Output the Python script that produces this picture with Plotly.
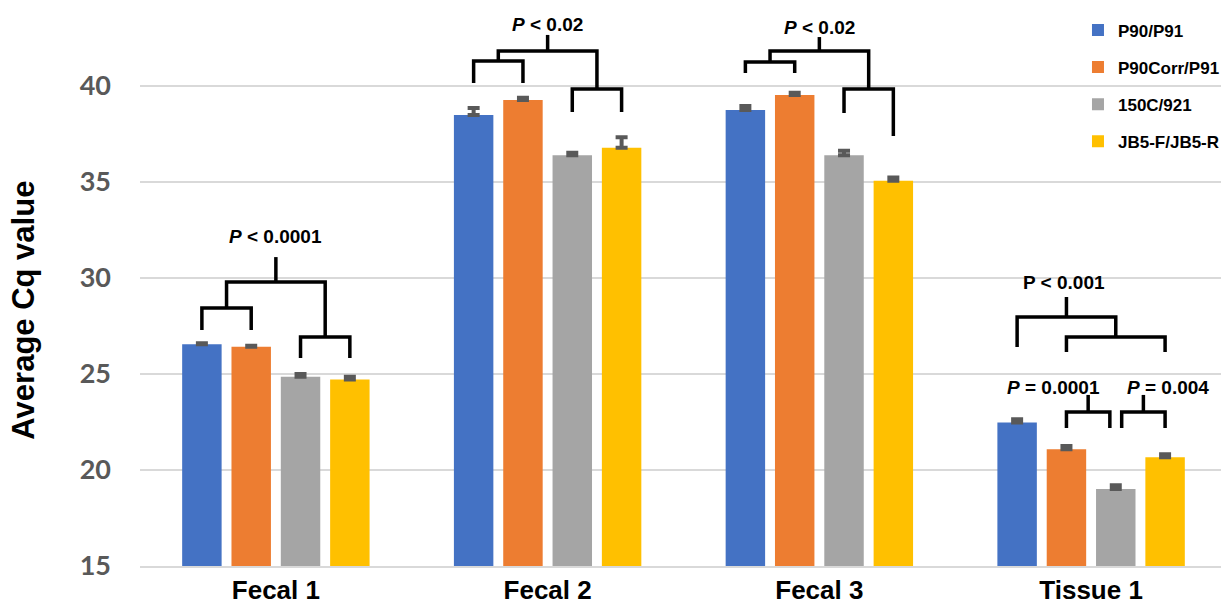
import plotly.graph_objects as go

# ---------------- data ----------------
categories = ["Fecal 1", "Fecal 2", "Fecal 3", "Tissue 1"]
series_names = ["P90/P91", "P90Corr/P91", "150C/921", "JB5-F/JB5-R"]
p90_p91 = [26.55, 38.49, 38.75, 22.48]
p90corr_p91 = [26.42, 39.27, 39.53, 21.08]
c150_921 = [24.86, 36.39, 36.39, 19.01]
jb5 = [24.72, 36.79, 35.07, 20.66]
err_p90_p91 = [0.05, 0.36, 0.21, 0.16]
err_p90corr_p91 = [0.05, 0.12, 0.12, 0.17]
err_c150_921 = [0.14, 0.14, 0.24, 0.20]
err_jb5 = [0.14, 0.54, 0.16, 0.16]

values = [p90_p91, p90corr_p91, c150_921, jb5]
errors = [err_p90_p91, err_p90corr_p91, err_c150_921, err_jb5]
colors = ["#4472C4", "#ED7D31", "#A5A5A5", "#FFC000"]

y_ticks = [15, 20, 25, 30, 35, 40]

# ---------------- layout constants ----------------
BARGAP = 0.274
BARGROUPGAP = 0.2
N = len(series_names)
SLOT = (1 - BARGAP) / N  # in category units


def bx(cat, j):
    """x position (category units) of bar slot j (float) in category cat."""
    return cat + (j - (N - 1) / 2) * SLOT


fig = go.Figure()
for name, vals, errs, col in zip(series_names, values, errors, colors):
    fig.add_trace(go.Bar(
        name=name,
        x=list(range(len(categories))),
        y=vals,
        marker=dict(color=col, line=dict(width=0)),
        error_y=dict(type="data", array=errs, arrayminus=[0] * len(errs),
                     symmetric=False, color="#595959", thickness=4, width=6),
        legendgroup=name,
    ))

# significance brackets: (category, jLeft, jRight, yLegLeft, yLegRight, yBar, yStemTop or None)
brackets = [
    (0, 0, 1, 27.29, 27.29, 28.44, None),
    (0, 2, 3, 25.83, 25.83, 26.93, None),
    (0, 0.5, 2.5, 28.44, 26.93, 29.79, 31.09),
    (1, 0, 1, 40.16, 40.16, 41.30, None),
    (1, 2, 3, 38.65, 38.65, 39.84, None),
    (1, 0.5, 2.5, 41.30, 39.84, 41.82, 42.66),
    (2, 0, 1, 40.68, 40.68, 41.25, None),
    (2, 2, 3, 38.59, 37.40, 39.84, None),
    (2, 0.5, 2.5, 41.25, 39.84, 41.82, 42.55),
    (3, 0, 2, 26.41, 26.93, 27.97, 29.01),
    (3, 1, 3, 26.15, 26.15, 26.93, None),
    (3, 1, 1.88, 22.19, 22.19, 23.02, 23.91),
    (3, 2.12, 3, 22.19, 22.19, 23.02, 23.91),
]
for cat, jl, jr, yl, yr, yb, ys in brackets:
    xl, xr = bx(cat, jl), bx(cat, jr)
    path = f"M{xl},{yl} L{xl},{yb} L{xr},{yb} L{xr},{yr}"
    fig.add_shape(type="path", path=path, xref="x", yref="y",
                  line=dict(color="black", width=3.5))
    if ys is not None:
        xm = (xl + xr) / 2
        fig.add_shape(type="line", x0=xm, x1=xm, y0=yb, y1=ys, xref="x", yref="y",
                      line=dict(color="black", width=3.5))

# p-value labels: (category, j, y, text)
p_labels = [
    (0, 1.5, 32.14, "<i>P</i> < 0.0001"),
    (1, 1.5, 43.23, "<i>P</i> < 0.02"),
    (2, 1.5, 43.07, "<i>P</i> < 0.02"),
    (3, 0.95, 29.79, "P < 0.001"),
    (3, 0.73, 24.32, "<i>P</i> = 0.0001"),
    (3, 3.06, 24.32, "<i>P</i> = 0.004"),
]
for cat, j, y, t in p_labels:
    fig.add_annotation(x=bx(cat, j), y=y, xref="x", yref="y", text=t, showarrow=False,
                       xanchor="center", yanchor="middle",
                       font=dict(family="Liberation Sans", size=19, color="black", weight="bold"))

fig.add_annotation(x=-0.1078, y=0.452, xref="paper", yref="paper", text="Average Cq value",
                   textangle=-90, showarrow=False, xanchor="center", yanchor="middle",
                   font=dict(family="Liberation Sans", size=31, color="black", weight="bold"))

fig.update_layout(
    width=1221, height=605,
    margin=dict(l=140, r=0, t=0, b=39, autoexpand=False),
    paper_bgcolor="white", plot_bgcolor="white",
    barmode="group", bargap=BARGAP, bargroupgap=BARGROUPGAP,
    showlegend=True,
    legend=dict(x=0.8677, y=0.978, xanchor="left", yanchor="top",
                font=dict(family="Liberation Sans", size=17, color="black", weight="bold"),
                bgcolor="rgba(0,0,0,0)", tracegroupgap=12, traceorder="grouped"),
    xaxis=dict(
        tickmode="array", tickvals=list(range(len(categories))), ticktext=categories,
        range=[-0.5, 3.478], showgrid=False, zeroline=False,
        showline=True, linecolor="#D9D9D9", linewidth=2, ticks="",
        tickfont=dict(family="Liberation Sans", size=26, color="black", weight="bold"),
    ),
    yaxis=dict(
        range=[15, 44.48], tickmode="array", tickvals=y_ticks,
        showgrid=True, gridcolor="#D9D9D9", gridwidth=2, zeroline=False,
        showline=False, ticks="", ticklabelstandoff=28,
        tickfont=dict(family="Lato", size=27, color="#595959", weight="bold"),
    ),
)

fig.write_html("out.html", config={"displayModeBar": False},
               post_script="document.body.style.margin='0';document.body.style.overflow='hidden';")
